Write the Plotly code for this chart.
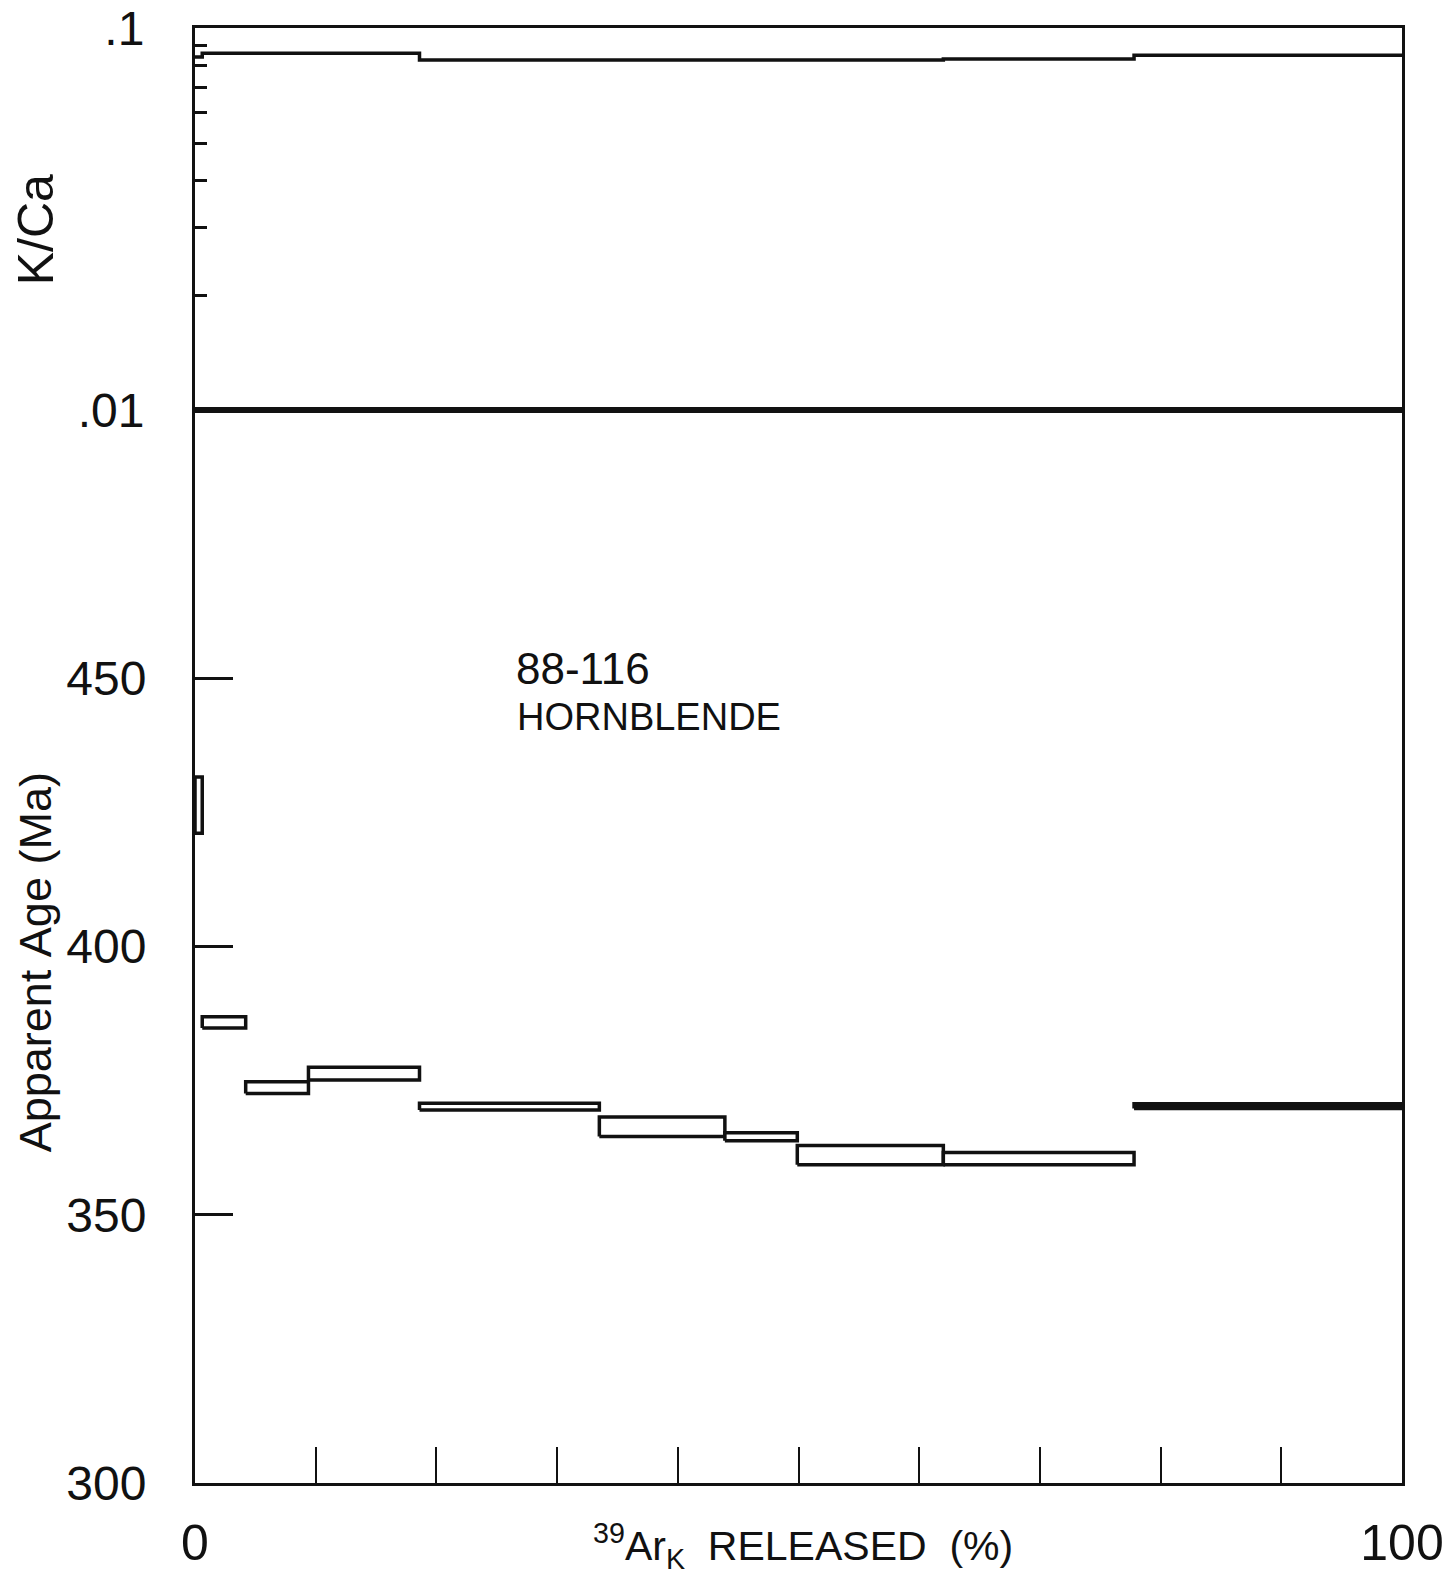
import plotly.graph_objects as go

# Step-heating results: cumulative 39Ar released (%) at each step boundary
step_edges = [0, 0.6, 4.2, 9.4, 18.6, 33.5, 43.9, 49.9, 62.0, 77.8, 100]
# Apparent age envelope (Ma) for each step, lower and upper bound
age_lo = [421.1, 384.8, 372.6, 375.1, 369.5, 364.6, 363.8, 359.3, 359.3, 369.8]
age_hi = [431.6, 386.9, 374.8, 377.5, 370.8, 368.2, 365.3, 362.9, 361.6, 370.7]
# K/Ca ratio for each step
kca = [0.0840, 0.0860, 0.0860, 0.0860, 0.0825, 0.0825, 0.0825, 0.0825, 0.0830, 0.0850]

age_ticks = [300, 350, 400, 450]
kca_ticks = [0.01, 0.1]
kca_ticktext = [".01", ".1"]
kca_minor = [0.02, 0.03, 0.04, 0.05, 0.06, 0.07, 0.08, 0.09]
x_ticks = [0, 100]
x_minor = [10, 20, 30, 40, 50, 60, 70, 80, 90]

FONT = "Liberation Sans, Arial, sans-serif"
INK = "#111111"

fig = go.Figure()

# Age spectrum: one outlined box per heating step
for i in range(len(age_lo)):
    x0, x1 = step_edges[i], step_edges[i + 1]
    lo, hi = age_lo[i], age_hi[i]
    thin = (hi - lo) < 1.0
    fig.add_trace(go.Scatter(
        x=[x0, x1, x1, x0, x0], y=[lo, lo, hi, hi, lo],
        mode="lines", fill="toself",
        fillcolor=INK if thin else "white",
        line=dict(color=INK, width=3.5),
        xaxis="x", yaxis="y", showlegend=False, hoverinfo="skip",
    ))

# K/Ca step line
kx, ky = [], []
for i, v in enumerate(kca):
    kx += [step_edges[i], step_edges[i + 1]]
    ky += [v, v]
fig.add_trace(go.Scatter(
    x=kx, y=ky, mode="lines", line=dict(color=INK, width=3.5),
    xaxis="x2", yaxis="y2", showlegend=False, hoverinfo="skip",
))

split = 0.7375

fig.update_layout(
    width=1453, height=1584,
    margin=dict(l=195, r=51, t=28, b=101, autoexpand=False),
    paper_bgcolor="white", plot_bgcolor="white",
    font=dict(family=FONT, color=INK, size=46),
    xaxis=dict(
        domain=[0, 1], range=[0, 100], anchor="y", automargin=False,
        showgrid=False, zeroline=False,
        showline=True, linecolor=INK, linewidth=3, mirror=True,
        tickmode="array", tickvals=x_ticks,
        ticks="inside", ticklen=36, tickwidth=2, tickcolor=INK,
        minor=dict(tickmode="array", tickvals=x_minor, ticks="inside",
                   ticklen=36, tickwidth=2, tickcolor=INK, showgrid=False),
        tickfont=dict(size=50, family=FONT), ticklabelstandoff=14,
    ),
    yaxis=dict(
        domain=[0, split], range=[300, 500], anchor="x", automargin=False,
        showgrid=False, zeroline=False,
        showline=True, linecolor=INK, linewidth=3, mirror=True,
        tickmode="array", tickvals=age_ticks,
        ticks="inside", ticklen=38, tickwidth=3, tickcolor=INK,
        tickfont=dict(size=48, family=FONT), ticklabelstandoff=36,
    ),
    xaxis2=dict(
        domain=[0, 1], range=[0, 100], anchor="y2", automargin=False,
        showgrid=False, zeroline=False, showticklabels=False, ticks="",
        showline=True, linecolor=INK, linewidth=3, mirror=True,
    ),
    yaxis2=dict(
        domain=[split, 1], type="log", range=[-2, -0.9995], anchor="x2",
        automargin=False,
        showgrid=False, zeroline=False,
        showline=True, linecolor=INK, linewidth=3, mirror=True,
        tickmode="array", tickvals=kca_ticks, ticktext=kca_ticktext,
        ticks="inside", ticklen=12, tickwidth=3, tickcolor=INK,
        minor=dict(tickmode="array", tickvals=kca_minor, ticks="inside",
                   ticklen=12, tickwidth=3, tickcolor=INK, showgrid=False),
        tickfont=dict(size=48, family=FONT), ticklabelstandoff=38,
    ),
)

# Axis titles and sample label
fig.add_annotation(
    text="K/Ca", xref="paper", yref="paper",
    x=-0.1315, y=(1483 - 230) / 1455,
    textangle=-90, showarrow=False, font=dict(size=50, family=FONT),
    xanchor="center", yanchor="middle",
)
fig.add_annotation(
    text="Apparent\u00a0Age\u00a0(Ma)", xref="paper", yref="paper",
    x=-0.1315, y=(1483 - 962) / 1455,
    textangle=-90, showarrow=False, font=dict(size=45, family=FONT),
    xanchor="center", yanchor="middle",
)
fig.add_annotation(
    text="<sup>39</sup>Ar<sub>K</sub>\u00a0\u00a0RELEASED\u00a0\u00a0(%)",
    xref="paper", yref="paper",
    x=(803 - 195) / 1207, y=(1483 - 1546) / 1455,
    showarrow=False, font=dict(size=41, family=FONT),
    xanchor="center", yanchor="middle",
)
fig.add_annotation(
    text="88-116", xref="x", yref="y",
    x=26.4, y=456.8, showarrow=False, align="left",
    xanchor="left", yanchor="top", font=dict(size=44, family=FONT),
)
fig.add_annotation(
    text="HORNBLENDE", xref="x", yref="y",
    x=26.5, y=447.0, showarrow=False, align="left",
    xanchor="left", yanchor="top", font=dict(size=38, family=FONT),
)

fig.write_html("out.html")
